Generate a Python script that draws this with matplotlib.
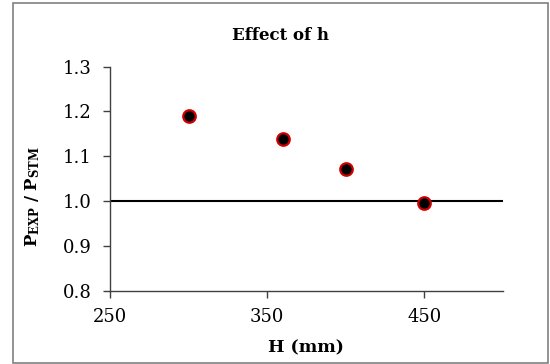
import matplotlib
matplotlib.use("Agg")
import matplotlib.pyplot as plt
from matplotlib.patches import Rectangle

# data
h_mm = [300, 360, 400, 450]
ratio = [1.189, 1.138, 1.072, 0.995]
x_ticks = [250, 350, 450]
y_ticks = [0.8, 0.9, 1.0, 1.1, 1.2, 1.3]

plt.rcParams['font.family'] = ['DejaVu Serif']
plt.rcParams['mathtext.fontset'] = 'custom'
plt.rcParams['mathtext.rm'] = 'DejaVu Serif'
plt.rcParams['mathtext.bf'] = 'DejaVu Serif:bold'

W, H = 550, 364
fig = plt.figure(figsize=(W / 100, H / 100), dpi=100)
ax = fig.add_axes([110 / W, 1 - 290.5 / H, (503 - 110) / W, (290.5 - 66.7) / H])

ax.axhline(1.0, color='black', lw=1.5, zorder=2)
ax.plot(h_mm, ratio, linestyle='none', marker='o', ms=9,
        mfc='black', mec='#d00000', mew=1.6, zorder=3)

ax.set_xlim(250, 500)
ax.set_ylim(0.8, 1.3)
ax.set_xticks(x_ticks)
ax.set_yticks(y_ticks)
ax.set_yticklabels([f"{v:.1f}" for v in y_ticks])

for side in ['top', 'right']:
    ax.spines[side].set_visible(False)
for side in ['left', 'bottom']:
    ax.spines[side].set_color('#404040')
    ax.spines[side].set_linewidth(1.0)

ax.tick_params(axis='both', direction='out', length=5, width=1.0,
               color='#404040', labelsize=13)
ax.tick_params(axis='y', pad=8)
ax.tick_params(axis='x', pad=7.5)

fig.text(281 / W, 1 - 35 / H, 'Effect of h', ha='center', va='center',
         fontsize=12, fontweight='bold')
fig.text(306 / W, 1 - 348 / H, 'H (mm)', ha='center', va='center',
         fontsize=12.5, fontweight='bold')
fig.text(33 / W, 1 - 197 / H, r'$\mathbf{P_{EXP}\ /\ P_{STM}}$',
         ha='center', va='center', rotation=90, fontsize=12)

# chart area border
fig.patches.append(Rectangle((13 / W, 1 - 363 / H), (548 - 13) / W, (363 - 3) / H,
                             transform=fig.transFigure, fill=False,
                             edgecolor='#808080', lw=1.2))

fig.savefig('out.png', dpi=100)
